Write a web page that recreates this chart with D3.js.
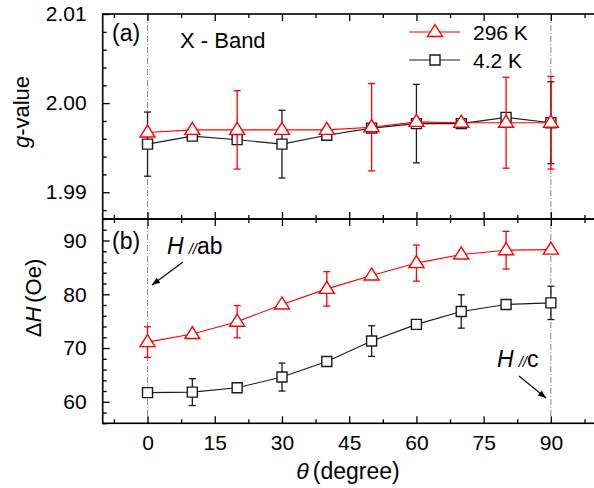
<!DOCTYPE html>
<html><head><meta charset="utf-8">
<script src="https://cdn.jsdelivr.net/npm/d3@7"></script>
<style>body{margin:0;background:#fff} svg{display:block;font-family:"Liberation Sans",Arial,Helvetica,sans-serif}</style>
</head><body><svg id="c" width="594" height="488"></svg>
<script>
// ---- data ----
const angles = [0, 10, 20, 30, 40, 50, 60, 70, 80, 90];
const g296 = [1.9967, 1.9970, 1.9970, 1.9970, 1.9970, 1.9973, 1.9979, 1.9978, 1.9978, 1.9978];
const g296Err = [null, null, 0.0044, null, null, 0.0049, null, null, 0.0051, 0.0052];
const g42 = [1.9954, 1.9963, 1.9959, 1.9954, 1.9964, 1.9972, 1.9977, 1.9977, 1.9984, 1.9978];
const g42Err = [0.0036, null, null, 0.0038, null, null, 0.0044, null, null, 0.0046];
const dH296 = [71.1, 72.6, 74.9, 78.1, 81.0, 83.5, 85.8, 87.4, 88.2, 88.3];
const dH296Err = [2.85, null, 3.0, null, 3.2, null, 3.35, null, 3.5, null];
const dH42 = [61.7, 61.8, 62.6, 64.6, 67.5, 71.3, 74.4, 76.8, 78.1, 78.4];
const dH42Err = [null, 2.5, null, 2.6, null, 2.85, null, 3.1, null, 3.1];
const xTicks = [0, 15, 30, 45, 60, 75, 90];
const xMinor = [-7.5, 7.5, 22.5, 37.5, 52.5, 67.5, 82.5, 97.5];
const gTicks = [1.99, 2.00, 2.01];
const gMinor = [1.988, 1.992, 1.994, 1.996, 1.998, 2.002, 2.004, 2.006, 2.008];
const hTicks = [60, 70, 80, 90];
const hMinor = [56, 58, 62, 64, 66, 68, 72, 74, 76, 78, 82, 84, 86, 88, 92, 94];
const seriesNames = ["296 K", "4.2 K"];

// ---- layout ----
const svg = d3.select("#c");
const L = 102.7, R = 595.7;
const topA = 14, botA = 219, topB = 219, botB = 423.3;
const RED = "#ff0000", BLK = "#1a1a1a";
const x = d3.scaleLinear().domain([-10, 100]).range([L, R]);
const yA = d3.scaleLinear().domain([1.987, 2.01]).range([botA, topA]);
const yB = d3.scaleLinear().domain([56, 94]).range([botB, topB]);
const MAJ = 7, MIN = 4;

svg.append("defs").append("marker").attr("id", "arr")
  .attr("viewBox", "0 0 10 10").attr("refX", 10).attr("refY", 5)
  .attr("markerWidth", 10).attr("markerHeight", 8).attr("markerUnits", "userSpaceOnUse")
  .attr("orient", "auto")
  .append("path").attr("d", "M0,1 L10,5 L0,9 Z").attr("fill", "#000");

// dash-dot reference lines
[0, 90].forEach(v => {
  svg.append("line").attr("x1", x(v)).attr("x2", x(v)).attr("y1", topA).attr("y2", botB)
    .attr("stroke", "#8a8a8a").attr("stroke-width", 1).attr("stroke-dasharray", "6,2,1,2");
});

function styleAxis(g) {
  g.select(".domain").remove();
  g.selectAll(".tick line").attr("stroke", "#000").attr("stroke-width", 1.3);
  g.selectAll("text").attr("font-size", 21).attr("fill", "#000")
    .attr("font-family", '"Liberation Sans",Arial,sans-serif');
}
function xAxes(yPos, axisFn, withLabels) {
  svg.append("g").attr("transform", `translate(0,${yPos})`)
    .call(axisFn(x).tickValues(xTicks).tickSize(-MAJ).tickPadding(12)
      .tickFormat(withLabels ? d3.format("d") : ""))
    .call(styleAxis);
  svg.append("g").attr("transform", `translate(0,${yPos})`)
    .call(axisFn(x).tickValues(xMinor).tickSize(-MIN).tickFormat(""))
    .call(styleAxis);
}
xAxes(topA, d3.axisTop, false);
xAxes(botA, d3.axisBottom, false);
xAxes(topB, d3.axisTop, false);
xAxes(botB, d3.axisBottom, true);

function yAxes(scale, major, minor, fmt) {
  svg.append("g").attr("transform", `translate(${L},0)`)
    .call(d3.axisLeft(scale).tickValues(major).tickSize(-MAJ).tickPadding(16).tickFormat(fmt))
    .call(styleAxis);
  svg.append("g").attr("transform", `translate(${L},0)`)
    .call(d3.axisLeft(scale).tickValues(minor).tickSize(-MIN).tickFormat(""))
    .call(styleAxis);
}
yAxes(yA, gTicks, gMinor, d3.format(".2f"));
yAxes(yB, hTicks, hMinor, d3.format("d"));

// frame
const frame = svg.append("g").attr("fill", "none").attr("stroke", "#000").attr("stroke-width", 1.6);
frame.append("rect").attr("x", L).attr("y", topA).attr("width", R - L).attr("height", botA - topA);
frame.append("rect").attr("x", L).attr("y", topB).attr("width", R - L).attr("height", botB - topB);

// series drawing
const triPath = "M0,-7.5 L7.5,4.5 L-7.5,4.5 Z";
const sqPath = "M-5,-5 H5 V5 H-5 Z";
function drawSeries(scale, vals, errs, color, shape) {
  const pts = angles.map((a, i) => ({a, v: vals[i], e: errs[i]}));
  svg.append("path").datum(pts)
    .attr("d", d3.line().x(d => x(d.a)).y(d => scale(d.v)))
    .attr("fill", "none").attr("stroke", color).attr("stroke-width", 1.1);
  const eb = svg.append("g").attr("stroke", color).attr("stroke-width", 1.3);
  pts.filter(d => d.e != null).forEach(d => {
    const cx = x(d.a), y1 = scale(d.v - d.e), y2 = scale(d.v + d.e);
    eb.append("line").attr("x1", cx).attr("x2", cx).attr("y1", y1).attr("y2", y2);
    eb.append("line").attr("x1", cx - 3.5).attr("x2", cx + 3.5).attr("y1", y1).attr("y2", y1);
    eb.append("line").attr("x1", cx - 3.5).attr("x2", cx + 3.5).attr("y1", y2).attr("y2", y2);
  });
  svg.append("g").selectAll("path").data(pts).join("path")
    .attr("transform", d => `translate(${x(d.a)},${scale(d.v)})`)
    .attr("d", shape).attr("fill", "#fff")
    .attr("stroke", color).attr("stroke-width", 1.4);
}
drawSeries(yA, g42, g42Err, BLK, sqPath);
drawSeries(yA, g296, g296Err, RED, triPath);
drawSeries(yB, dH296, dH296Err, RED, triPath);
drawSeries(yB, dH42, dH42Err, BLK, sqPath);

// legend
const leg = [{n: seriesNames[0], c: RED, s: triPath, y: 32}, {n: seriesNames[1], c: BLK, s: sqPath, y: 60}];
leg.forEach(d => {
  svg.append("line").attr("x1", 409).attr("x2", 460).attr("y1", d.y).attr("y2", d.y)
    .attr("stroke", d.c).attr("stroke-width", 1.1);
  svg.append("path").attr("transform", `translate(435,${d.y})`).attr("d", d.s)
    .attr("fill", "#fff").attr("stroke", d.c).attr("stroke-width", 1.4);
  svg.append("text").attr("x", 473).attr("y", d.y + 7.5).attr("font-size", 21).text(d.n);
});

// panel labels
svg.append("text").attr("x", 112).attr("y", 41).attr("font-size", 23).text("(a)");
svg.append("text").attr("x", 112).attr("y", 249).attr("font-size", 23).text("(b)");
svg.append("text").attr("x", 180).attr("y", 48).attr("font-size", 22).text("X - Band");

// annotations
function hText(xp, yp, tail) {
  const t = svg.append("text").attr("x", xp).attr("y", yp).attr("font-size", 23);
  t.append("tspan").attr("font-style", "italic").text("H");
  t.append("tspan").attr("font-style", "italic").attr("font-size", 15).attr("dx", 5).text("//");
  t.append("tspan").text(tail);
}
hText(167, 254, "ab");
svg.append("line").attr("x1", 183).attr("y1", 262).attr("x2", 152).attr("y2", 285)
  .attr("stroke", "#000").attr("stroke-width", 1.1).attr("marker-end", "url(#arr)");
hText(497, 367, "c");
svg.append("line").attr("x1", 519).attr("y1", 376).attr("x2", 546).attr("y2", 398)
  .attr("stroke", "#000").attr("stroke-width", 1.1).attr("marker-end", "url(#arr)");

// axis titles
const xt = svg.append("text").attr("x", 348).attr("y", 479).attr("text-anchor", "middle").attr("font-size", 23);
xt.append("tspan").attr("font-style", "italic").text("θ");
xt.append("tspan").attr("dx", 4).text("(degree)");

const yt1 = svg.append("text").attr("transform", "translate(29,112) rotate(-90)")
  .attr("text-anchor", "middle").attr("font-size", 22);
yt1.append("tspan").attr("font-style", "italic").text("g");
yt1.append("tspan").text("-value");

const yt2 = svg.append("text").attr("transform", "translate(41,298) rotate(-90)")
  .attr("text-anchor", "middle").attr("font-size", 22);
yt2.append("tspan").text("Δ");
yt2.append("tspan").attr("font-style", "italic").text("H");
yt2.append("tspan").attr("dx", 4).text("(Oe)");
</script></body></html>
